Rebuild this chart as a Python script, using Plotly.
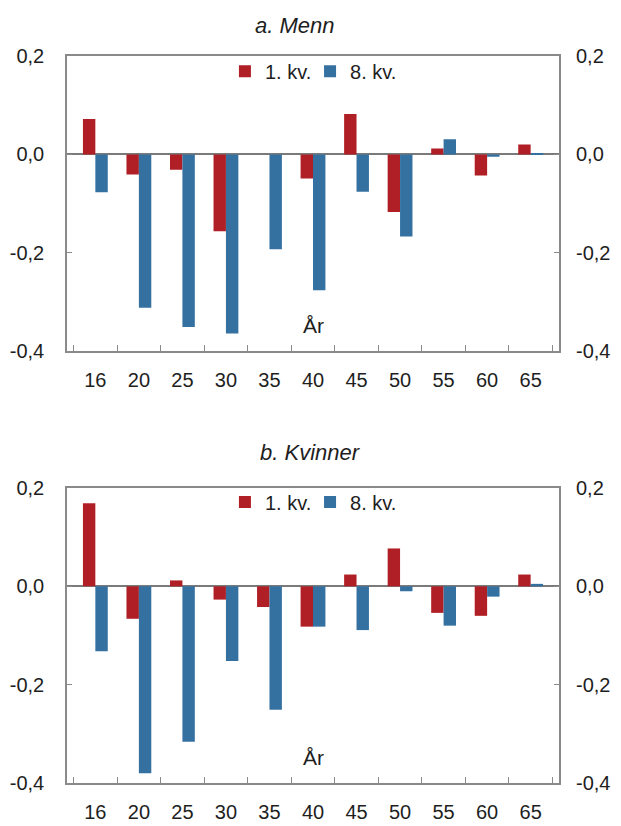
import plotly.graph_objects as go

ages = ["16", "20", "25", "30", "35", "40", "45", "50", "55", "60", "65"]
men_q1 = [0.072, -0.041, -0.031, -0.156, 0.0, -0.049, 0.082, -0.117, 0.012, -0.043, 0.020]
men_q8 = [-0.077, -0.312, -0.351, -0.364, -0.193, -0.276, -0.076, -0.167, 0.031, -0.005, 0.003]
women_q1 = [0.169, -0.066, 0.012, -0.027, -0.042, -0.082, 0.024, 0.077, -0.054, -0.060, 0.024]
women_q8 = [-0.132, -0.380, -0.316, -0.152, -0.251, -0.082, -0.089, -0.010, -0.080, -0.021, 0.005]

series_names = ["1. kv.", "8. kv."]
panel_titles = ["<i>a. Menn</i>", "<i>b. Kvinner</i>"]
y_tickvals = [0.2, 0.0, -0.2, -0.4]
y_ticktext = ["0,2", "0,0", "-0,2", "-0,4"]

RED = "#B01F25"
BLUE = "#3470A0"
FRAME = "#8a8a8a"
TXT = "#1e1e1e"
FONT = "Liberation Sans, Arial, sans-serif"

fig = go.Figure()
fig.add_trace(go.Bar(x=ages, y=men_q1, name=series_names[0], marker_color=RED,
                     marker_line_width=0, xaxis="x", yaxis="y", legend="legend"))
fig.add_trace(go.Bar(x=ages, y=men_q8, name=series_names[1], marker_color=BLUE,
                     marker_line_width=0, xaxis="x", yaxis="y", legend="legend3"))
fig.add_trace(go.Bar(x=ages, y=women_q1, name=series_names[0], marker_color=RED,
                     marker_line_width=0, xaxis="x2", yaxis="y2", legend="legend2"))
fig.add_trace(go.Bar(x=ages, y=women_q8, name=series_names[1], marker_color=BLUE,
                     marker_line_width=0, xaxis="x2", yaxis="y2", legend="legend4"))
# invisible helpers so the right-hand mirror axes get drawn
fig.add_trace(go.Scatter(x=ages, y=men_q1, mode="markers", marker=dict(opacity=0),
                         showlegend=False, hoverinfo="skip", xaxis="x", yaxis="y3"))
fig.add_trace(go.Scatter(x=ages, y=women_q1, mode="markers", marker=dict(opacity=0),
                         showlegend=False, hoverinfo="skip", xaxis="x2", yaxis="y4"))

top_dom = [0.594, 1.0]
bot_dom = [0.0, 0.4058]

def xax(anchor):
    return dict(domain=[0, 1], anchor=anchor, type="category", showline=True, mirror=True,
                linecolor=FRAME, linewidth=1.5, ticks="inside", tickson="boundaries",
                ticklen=6, tickcolor=FRAME, tickwidth=1, showgrid=False, zeroline=False,
                tickfont=dict(size=20, color=TXT), ticklabelstandoff=10, automargin=False)

def yax(domain, anchor):
    return dict(domain=domain, anchor=anchor, range=[-0.4, 0.2], tickvals=y_tickvals,
                ticktext=y_ticktext, ticks="inside", ticklen=5, tickcolor=FRAME,
                showline=True, mirror=True, linecolor=FRAME, linewidth=1.5,
                showgrid=False, zeroline=True, zerolinecolor="#7a7a7a", zerolinewidth=1.5,
                tickfont=dict(size=20, color=TXT), ticklabelstandoff=17, automargin=False)

def yax_right(over, anchor):
    return dict(overlaying=over, anchor=anchor, side="right", range=[-0.4, 0.2],
                tickvals=y_tickvals, ticktext=y_ticktext, ticks="inside", ticklen=5,
                tickcolor=FRAME, showline=False, showgrid=False, zeroline=False,
                tickfont=dict(size=20, color=TXT), ticklabelstandoff=16, automargin=False)

legend_common = dict(orientation="h", xanchor="left", yanchor="middle",
                     font=dict(size=20, color=TXT), bgcolor="rgba(0,0,0,0)",
                     itemwidth=30, tracegroupgap=0, itemclick=False)

fig.update_layout(
    width=613, height=818,
    margin=dict(l=59, r=62, t=48, b=43, autoexpand=False),
    paper_bgcolor="white", plot_bgcolor="white",
    font=dict(family=FONT, color=TXT),
    barmode="group", bargap=0.43, bargroupgap=0,
    xaxis=xax("y"), yaxis=yax(top_dom, "x"),
    xaxis2=xax("y2"), yaxis2=yax(bot_dom, "x2"),
    yaxis3=yax_right("y", "x"), yaxis4=yax_right("y2", "x2"),
    legend=dict(x=0.321, y=0.979, **legend_common),
    legend3=dict(x=0.494, y=0.979, **legend_common),
    legend2=dict(x=0.321, y=0.3865, **legend_common),
    legend4=dict(x=0.494, y=0.3865, **legend_common),
    annotations=[
        dict(text=panel_titles[0], xref="paper", yref="paper", x=0.464, y=1.0426,
             showarrow=False, font=dict(size=22), xanchor="center", yanchor="middle"),
        dict(text=panel_titles[1], xref="paper", yref="paper", x=0.494, y=0.454,
             showarrow=False, font=dict(size=22), xanchor="center", yanchor="middle"),
        dict(text="År", xref="x domain", yref="y domain", x=0.502, y=0.088,
             showarrow=False, font=dict(size=21), xanchor="center", yanchor="middle"),
        dict(text="År", xref="x2 domain", yref="y2 domain", x=0.502, y=0.088,
             showarrow=False, font=dict(size=21), xanchor="center", yanchor="middle"),
    ],
)

fig.write_html("out.html")
